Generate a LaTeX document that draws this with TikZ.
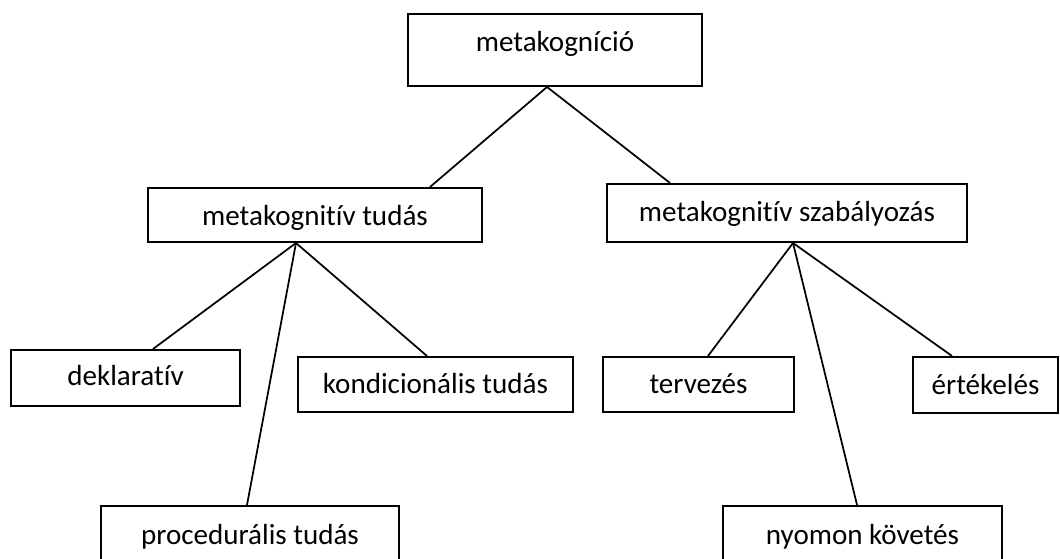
\documentclass[tikz,border=0pt]{standalone}
\usepackage{fontspec}
\setmainfont{Carlito}[Ligatures=NoCommon]
\begin{document}
\begin{tikzpicture}[x=0.75pt,y=-0.75pt,
  box/.style={draw, line width=1.5pt, inner sep=0pt, rectangle,
    font=\fontsize{21.8}{26}\selectfont, text depth=0pt},
  tb/.style={text height=#1},
  conn/.style={line width=1.3pt}]
\useasboundingbox (0,0) rectangle (1060,559);
\clip (0,0) rectangle (1060,559);
\node[box, tb=3pt, minimum width=220.5pt, minimum height=54pt] (top) at (555,50) {metakogníció};
\node[box, tb=16.5pt, minimum width=250.5pt, minimum height=40.5pt] (tudas) at (315,215) {metakognitív tudás};
\node[box, tb=13.5pt, minimum width=270pt, minimum height=43.5pt] (szab) at (787,213) {metakognitív szabályozás};
\node[box, tb=12pt, minimum width=171.75pt, minimum height=42pt] (dekl) at (125.5,378) {deklaratív};
\node[box, tb=14.25pt, minimum width=206.25pt, minimum height=41.25pt] (kond) at (435.5,384.5) {kondicionális tudás};
\node[box, tb=14.25pt, minimum width=143.25pt, minimum height=41.25pt] (terv) at (698.5,384.5) {tervezés};
\node[box, tb=15pt, minimum width=108.75pt, minimum height=42pt] (ert) at (985.5,385) {értékelés};
\node[box, tb=12pt, minimum width=223.5pt, minimum height=45pt] (proc) at (250,536) {procedurális tudás};
\node[box, tb=12pt, minimum width=209.25pt, minimum height=45pt] (nyom) at (862.5,536) {nyomon követés};
\draw[conn] ([xshift=-6pt]top.south) -- ([xshift=86.25pt]tudas.north);
\draw[conn] ([xshift=-6pt]top.south) -- ([xshift=-87.75pt]szab.north);
\draw[conn] ([xshift=-14.25pt]tudas.south) -- ([xshift=20.6pt]dekl.north);
\draw[conn] ([xshift=-14.25pt]tudas.south) -- ([xshift=-2.25pt]proc.north);
\draw[conn] ([xshift=-14.25pt]tudas.south) -- ([xshift=-6.4pt]kond.north);
\draw[conn] ([xshift=4.5pt]szab.south) -- ([xshift=7.1pt]terv.north);
\draw[conn] ([xshift=4.5pt]szab.south) -- ([xshift=-4.1pt]nyom.north);
\draw[conn] ([xshift=4.5pt]szab.south) -- ([xshift=-25.1pt]ert.north);
\end{tikzpicture}
\end{document}
